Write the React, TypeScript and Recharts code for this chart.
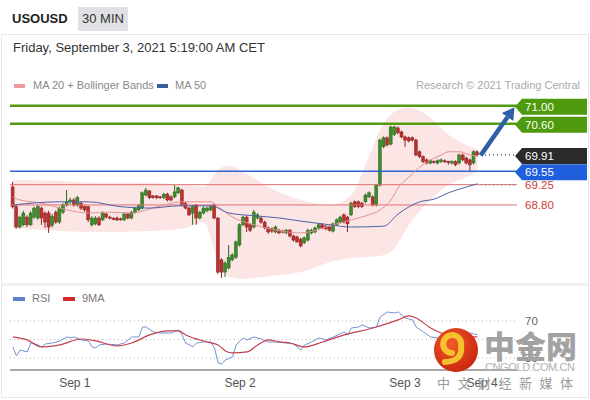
import React from 'react';
import { ComposedChart, Bar, Line, Area, XAxis, YAxis, ReferenceLine } from 'recharts';

const FONT = '"Liberation Sans", Arial, sans-serif';

// OHLC candles [open, close, high, low], 30-min bars
const candles: number[][] = [
  [69.20, 68.76, 69.31, 68.72], [68.76, 68.31, 68.80, 68.27], [68.31, 68.53, 68.56, 68.28], [68.36, 68.62, 68.67, 68.33],
  [68.53, 68.36, 68.57, 68.31], [68.36, 68.62, 68.66, 68.33], [68.53, 68.73, 68.76, 68.49], [68.51, 68.76, 68.80, 68.47],
  [68.73, 68.51, 68.76, 68.36], [68.62, 68.42, 68.66, 68.29], [68.62, 68.31, 68.67, 68.18], [68.35, 68.55, 68.60, 68.30],
  [68.64, 68.42, 68.68, 68.38], [68.42, 68.73, 68.76, 68.38], [68.64, 68.80, 68.84, 68.60], [68.80, 68.87, 69.13, 68.76],
  [68.87, 68.91, 68.96, 68.82], [68.91, 68.80, 68.95, 68.76], [68.80, 68.96, 69.00, 68.76], [68.84, 68.73, 68.88, 68.69],
  [68.76, 68.69, 68.80, 68.65], [68.76, 68.47, 68.78, 68.42], [68.36, 68.51, 68.55, 68.32], [68.38, 68.51, 68.55, 68.35],
  [68.51, 68.36, 68.55, 68.33], [68.47, 68.62, 68.66, 68.44], [68.60, 68.53, 68.63, 68.50], [68.53, 68.51, 68.56, 68.48],
  [68.50, 68.49, 68.53, 68.46], [68.51, 68.47, 68.54, 68.44], [68.49, 68.48, 68.52, 68.45], [68.47, 68.60, 68.63, 68.44],
  [68.60, 68.51, 68.62, 68.48], [68.51, 68.64, 68.67, 68.48], [68.64, 68.73, 68.76, 68.61], [68.69, 68.78, 68.82, 68.66],
  [68.73, 69.07, 69.10, 68.70], [69.02, 69.13, 69.18, 68.99], [69.11, 68.96, 69.13, 68.93], [69.00, 68.96, 69.02, 68.94],
  [69.00, 68.96, 69.02, 68.93], [68.98, 68.96, 69.00, 68.94], [68.96, 69.04, 69.07, 68.93], [69.04, 68.91, 69.07, 68.88],
  [68.98, 68.91, 69.01, 68.88], [68.98, 69.09, 69.24, 68.95], [69.07, 69.18, 69.20, 69.04], [69.13, 68.80, 69.16, 68.77],
  [68.84, 68.73, 68.87, 68.70], [68.73, 68.58, 68.76, 68.55], [68.62, 68.76, 68.79, 68.36], [68.80, 68.51, 68.82, 68.36],
  [68.51, 68.64, 68.67, 68.48], [68.62, 68.73, 68.76, 68.59], [68.67, 68.73, 68.76, 68.64], [68.69, 68.76, 68.79, 68.66],
  [68.80, 68.51, 68.83, 68.48], [68.51, 67.31, 68.53, 67.27], [67.58, 67.31, 67.62, 67.18], [67.31, 67.51, 67.55, 67.20],
  [67.40, 67.64, 67.91, 67.37], [67.58, 67.69, 67.73, 67.55], [67.64, 67.98, 68.01, 67.60], [67.91, 68.36, 68.39, 67.88],
  [68.36, 68.53, 68.56, 68.33], [68.53, 68.31, 68.56, 68.20], [68.36, 68.24, 68.39, 68.20], [68.31, 68.64, 68.69, 68.28],
  [68.51, 68.58, 68.62, 68.48], [68.51, 68.42, 68.54, 68.38], [68.42, 68.29, 68.45, 68.26], [68.29, 68.20, 68.32, 68.16],
  [68.27, 68.22, 68.30, 68.18], [68.20, 68.31, 68.34, 68.17], [68.24, 68.18, 68.27, 68.15], [68.22, 68.20, 68.25, 68.17],
  [68.18, 68.24, 68.27, 68.15], [68.24, 68.11, 68.27, 68.08], [68.11, 68.02, 68.14, 67.99], [68.09, 67.98, 68.12, 67.96],
  [68.04, 67.89, 68.07, 67.86], [67.96, 68.07, 68.10, 67.93], [68.02, 68.24, 68.27, 67.99], [68.18, 68.24, 68.27, 68.15],
  [68.20, 68.29, 68.32, 68.17], [68.29, 68.36, 68.39, 68.26], [68.36, 68.29, 68.39, 68.26], [68.33, 68.27, 68.36, 68.24],
  [68.31, 68.24, 68.34, 68.21], [68.22, 68.38, 68.41, 68.19], [68.36, 68.47, 68.50, 68.33], [68.42, 68.53, 68.56, 68.39],
  [68.58, 68.42, 68.61, 68.39], [68.53, 68.38, 68.56, 68.20], [68.58, 68.84, 68.87, 68.55], [68.87, 68.76, 68.90, 68.73],
  [68.87, 68.76, 68.90, 68.73], [68.84, 68.76, 68.87, 68.73], [68.87, 69.02, 69.05, 68.84], [68.98, 69.07, 69.10, 68.95],
  [68.98, 68.80, 69.01, 68.77], [68.80, 69.24, 69.27, 68.77], [69.24, 70.24, 70.27, 69.21], [70.09, 70.29, 70.32, 70.06],
  [70.29, 70.13, 70.32, 70.10], [70.15, 70.53, 70.56, 70.12], [70.36, 70.53, 70.56, 70.33], [70.51, 70.40, 70.54, 70.37],
  [70.42, 70.31, 70.45, 70.28], [70.31, 70.24, 70.34, 70.09], [70.29, 70.22, 70.32, 70.19], [70.29, 70.24, 70.32, 70.21],
  [70.24, 69.91, 70.27, 69.88], [69.98, 69.87, 70.01, 69.84], [69.87, 69.76, 69.90, 69.73], [69.80, 69.73, 69.83, 69.70],
  [69.73, 69.78, 69.81, 69.70], [69.76, 69.75, 69.79, 69.72], [69.73, 69.78, 69.81, 69.70], [69.76, 69.80, 69.83, 69.73],
  [69.78, 69.76, 69.81, 69.73], [69.76, 69.75, 69.78, 69.69], [69.73, 69.76, 69.79, 69.70], [69.76, 69.69, 69.79, 69.66],
  [69.73, 69.91, 69.94, 69.70], [69.91, 69.80, 69.94, 69.77], [69.84, 69.73, 69.87, 69.70], [69.80, 69.69, 69.83, 69.53],
  [69.73, 69.98, 70.01, 69.70], [69.98, 69.91, 70.01, 69.88],
];

// MA 20 (sampled at candle index)
const ma20Idx = [0, 2, 8, 15, 21, 27, 33, 40, 47, 55, 57, 61, 67, 73, 80, 89, 94, 98, 102, 105, 107, 110, 113, 116, 119, 121, 124, 127, 129];
const ma20Val = [68.98, 68.91, 68.84, 68.69, 68.62, 68.64, 68.62, 68.76, 68.87, 68.87, 68.76, 68.53, 68.36, 68.24, 68.18, 68.36, 68.47, 68.56, 68.69, 68.91, 69.18, 69.42, 69.64, 69.80, 69.91, 69.98, 69.98, 69.91, 69.87];

// MA 50
const ma50Idx = [0, 13, 21, 30, 38, 46, 55, 60, 67, 74, 80, 88, 94, 103, 107, 113, 117, 121, 126, 129];
const ma50Val = [68.80, 68.87, 68.87, 68.76, 68.73, 68.78, 68.78, 68.62, 68.56, 68.51, 68.44, 68.36, 68.31, 68.33, 68.60, 68.87, 68.93, 69.07, 69.20, 69.27];

// Bollinger bands
const bandIdx = [0, 13, 24, 38, 48, 53, 57, 60, 64, 71, 80, 88, 94, 98, 102, 106, 110, 116, 121, 126, 129];
const bandUpper = [69.36, 69.33, 69.29, 69.29, 69.24, 69.20, 69.58, 69.67, 69.53, 69.20, 68.91, 68.80, 69.02, 69.69, 70.47, 70.87, 70.96, 70.73, 70.36, 70.13, 70.02];
const bandLower = [68.29, 68.22, 68.20, 68.22, 68.29, 68.42, 67.53, 67.20, 67.16, 67.22, 67.31, 67.53, 67.62, 67.64, 67.67, 67.84, 68.36, 68.91, 69.24, 69.42, 69.53];

// RSI and its 9MA
const rsiIdx = [0, 1, 2, 4, 5, 7, 8, 9, 11, 13, 15, 16, 17, 19, 21, 22, 23, 24, 26, 29, 31, 32, 33, 35, 36, 37, 39, 41, 44, 46, 47, 48, 50, 51, 53, 55, 56, 57, 58, 59, 61, 62, 64, 65, 67, 69, 71, 73, 76, 78, 80, 81, 83, 85, 87, 89, 92, 93, 94, 96, 97, 99, 101, 102, 104, 106, 107, 109, 111, 112, 114, 116, 118, 120, 123, 126, 127, 129];
const rsiVal = [41.9, 32.2, 38.6, 36.5, 46.2, 44.1, 41.9, 45.1, 46.2, 48.4, 52.7, 51.6, 52.7, 49.5, 48.4, 41.9, 40.8, 44.1, 45.1, 44.1, 46.2, 49.5, 52.7, 52.7, 63.5, 63.5, 58.1, 57.0, 57.0, 60.3, 54.9, 46.2, 41.9, 46.2, 47.3, 47.3, 40.8, 24.6, 23.5, 27.8, 31.1, 44.1, 51.6, 49.5, 52.7, 50.5, 47.3, 47.3, 46.2, 45.1, 38.6, 44.1, 47.3, 51.6, 49.5, 52.7, 58.1, 54.9, 62.4, 63.5, 65.7, 62.4, 63.5, 74.3, 79.7, 78.6, 79.7, 73.2, 71.1, 63.5, 58.1, 52.7, 51.6, 50.5, 51.6, 55.9, 57.0, 54.9];
const ma9Idx = [0, 4, 8, 13, 19, 23, 29, 33, 38, 43, 46, 48, 54, 57, 59, 61, 65, 68, 71, 74, 77, 81, 86, 92, 100, 107, 110, 112, 116, 119, 123, 126, 129];
const ma9Val = [52.7, 49.5, 41.9, 44.1, 50.5, 48.4, 43.0, 46.2, 54.9, 59.2, 59.2, 54.9, 47.3, 44.1, 37.6, 35.4, 36.5, 44.1, 49.5, 47.3, 46.2, 41.9, 47.3, 54.9, 62.4, 71.1, 75.4, 73.2, 62.4, 57.0, 53.8, 52.7, 52.7];

// Price levels
const levels = [71.0, 70.6, 69.91, 69.55, 69.25, 68.8];
const rsiLevels = [70, 50, 30];
const rsiLabels = [70, 30];

// X axis ticks
const dayTickIdx = [17.2, 63.1, 108.9, 130.3];
const dayTickLabels = ['Sep 1', 'Sep 2', 'Sep 3', 'Sep 4'];

const lastIdx = candles.length - 1;
const lastClose = candles[lastIdx][1];

const mainRows: any[] = candles.map(([o, c, h, l], i) => ({ i, o, c, h, l, range: [l, h] }));
ma20Idx.forEach((k, j) => { mainRows[k].ma20 = ma20Val[j]; });
ma50Idx.forEach((k, j) => { mainRows[k].ma50 = ma50Val[j]; });
bandIdx.forEach((k, j) => { mainRows[k].band = [bandLower[j], bandUpper[j]]; });

const rsiRows: any[] = candles.map((_, i) => ({ i }));
rsiIdx.forEach((k, j) => { rsiRows[k].rsi = rsiVal[j]; });
ma9Idx.forEach((k, j) => { rsiRows[k].ma9 = ma9Val[j]; });

const Candle = (props: any) => {
  const { x, width, payload } = props;
  let { y, height } = props;
  if (height < 0) { y = y + height; height = -height; }
  const { o, c, h, l } = payload;
  const k = h - l > 0 ? height / (h - l) : 0;
  const py = (v: number) => y + (h - v) * k;
  const up = c >= o;
  const fill = up ? '#3f8a2c' : '#b93232';
  const edge = up ? '#2b6a1c' : '#8e2222';
  const cx = x + width / 2;
  const top = py(Math.max(o, c));
  const bot = py(Math.min(o, c));
  return (
    <g>
      <line x1={cx} x2={cx} y1={y} y2={y + height} stroke={edge} strokeWidth={1} />
      <rect x={x} y={top} width={width} height={Math.max(1, bot - top)} fill={fill} stroke={edge} strokeWidth={0.5} />
    </g>
  );
};

const tag = (text: string, bg: string) => (p: any) => {
  const vb = p.viewBox || {};
  const x0 = vb.x + vb.width - 2;
  const y = vb.y + 1;
  return (
    <g>
      <path d={`M${x0},${y} L${x0 + 7},${y - 8} L587,${y - 8} L587,${y + 8} L${x0 + 7},${y + 8} Z`} fill={bg} />
      <text x={x0 + 10} y={y + 4} fill="#fff" fontSize={11.5} fontFamily={FONT}>{text}</text>
    </g>
  );
};

const plainTag = (text: string, color: string) => (p: any) => {
  const vb = p.viewBox || {};
  const x0 = vb.x + vb.width - 2;
  return (
    <text x={x0 + 10} y={vb.y + 4} fill={color} fontSize={11.5} fontFamily={FONT}>{text}</text>
  );
};

const rsiTag = (text: string) => (p: any) => {
  const vb = p.viewBox || {};
  const x0 = vb.x + vb.width;
  return (
    <text x={x0 + 8} y={vb.y + 4} fill="#666" fontSize={11.5} fontFamily={FONT}>{text}</text>
  );
};

const ArrowShape = (p: any) => {
  const { x1, y1, x2, y2 } = p;
  const dx = x2 - x1, dy = y2 - y1;
  const len = Math.sqrt(dx * dx + dy * dy) || 1;
  const ux = dx / len, uy = dy / len;
  const nx = -uy, ny = ux;
  const hl = 12, hw = 7;
  const bx = x2 - ux * hl, by = y2 - uy * hl;
  return (
    <g>
      <line x1={x1} y1={y1} x2={bx} y2={by} stroke="#2f5fa6" strokeWidth={4.5} />
      <polygon points={`${x2},${y2} ${bx + nx * hw},${by + ny * hw} ${bx - nx * hw},${by - ny * hw}`} fill="#2f5fa6" />
    </g>
  );
};

const levelStyle = [
  { stroke: '#529b12', w: 2.5, box: '#4f9a0c', plain: false },
  { stroke: '#529b12', w: 2.5, box: '#4f9a0c', plain: false },
  { stroke: 'none', w: 0, box: '#2a2a2a', plain: false },
  { stroke: '#2d66d2', w: 1.5, box: '#1f5fdc', plain: false },
  { stroke: '#e07070', w: 1, box: '#cc3b3b', plain: true },
  { stroke: '#e07070', w: 1, box: '#cc3b3b', plain: true },
];

export default function App() {
  const abs = (l: number, t: number, extra: any = {}) => ({ position: 'absolute' as const, left: l, top: t, ...extra });
  return (
    <div style={{ position: 'absolute', left: 0, top: 0, width: 590, height: 400, overflow: 'hidden', background: '#fff', fontFamily: FONT }}>
      {/* frame */}
      <div style={abs(1, 34, { width: 586, height: 362, border: '1px solid #e8e8e8' })} />
      <div style={abs(2, 283, { width: 586, height: 3, background: '#f2f2f2' })} />
      {/* header */}
      <div style={abs(12, 11, { fontSize: 13, fontWeight: 'bold', color: '#222' })}>USOUSD</div>
      <div style={abs(78, 7, { width: 50, height: 24, background: '#dfe1e4', fontSize: 13, color: '#333', lineHeight: '24px', textAlign: 'center' })}>30 MIN</div>
      <div style={abs(13, 40, { fontSize: 13, color: '#333', whiteSpace: 'nowrap' })}>Friday, September 3, 2021 5:19:00 AM CET</div>
      {/* legend */}
      <div style={abs(14, 84, { width: 11, height: 4, background: '#ee9a9a' })} />
      <div style={abs(33, 79, { fontSize: 11, color: '#888', whiteSpace: 'nowrap' })}>MA 20 + Bollinger Bands</div>
      <div style={abs(157, 84, { width: 11, height: 4, background: '#3a5f9f' })} />
      <div style={abs(175, 79, { fontSize: 11, color: '#888' })}>MA 50</div>
      <div style={abs(380, 79, { width: 200, textAlign: 'right', fontSize: 11, color: '#aaa', whiteSpace: 'nowrap' })}>Research © 2021 Trading Central</div>

      {/* main price chart */}
      <div style={abs(0, 95)}>
        <ComposedChart width={590} height={187} data={mainRows} margin={{ top: 0, right: 73, left: 10, bottom: 0 }}>
          <XAxis type="number" dataKey="i" domain={[-0.8, 140]} hide allowDataOverflow />
          <YAxis type="number" domain={[67.09, 71.24]} hide allowDataOverflow />
          <Area type="monotone" dataKey="band" stroke="none" fill="#f7cfcf" fillOpacity={0.55} connectNulls isAnimationActive={false} />
          {levels.map((v, k) => {
            const s = levelStyle[k];
            const txt = v.toFixed(2);
            return (
              <ReferenceLine key={k} y={v} stroke={s.stroke} strokeWidth={s.w}
                label={s.plain ? plainTag(txt, s.box) : tag(txt, s.box)} />
            );
          })}
          <ReferenceLine segment={[{ x: lastIdx + 1, y: lastClose }, { x: 139.3, y: lastClose }]} stroke="#333" strokeDasharray="1 3" strokeWidth={1.2} />
          <ReferenceLine segment={[{ x: lastIdx + 1, y: ma50Val[ma50Val.length - 1] - 0.02 }, { x: 139.3, y: ma50Val[ma50Val.length - 1] - 0.02 }]} stroke="#777" strokeDasharray="1 3" strokeWidth={1.2} />
          <Line type="monotone" dataKey="ma20" stroke="#e39292" strokeWidth={1} dot={false} connectNulls isAnimationActive={false} />
          <Line type="monotone" dataKey="ma50" stroke="#4f62a6" strokeWidth={1} dot={false} connectNulls isAnimationActive={false} />
          <Bar dataKey="range" barSize={3} shape={Candle} isAnimationActive={false} />
          <ReferenceLine segment={[{ x: 129.9, y: 69.9 }, { x: 139.3, y: 70.97 }]} shape={ArrowShape} />
        </ComposedChart>
      </div>

      {/* RSI legend */}
      <div style={abs(13, 297, { width: 12, height: 4, background: '#5b80cc' })} />
      <div style={abs(32, 292, { fontSize: 11, color: '#777' })}>RSI</div>
      <div style={abs(63, 297, { width: 12, height: 4, background: '#d42a2a' })} />
      <div style={abs(82, 292, { fontSize: 11, color: '#777' })}>9MA</div>

      {/* RSI chart */}
      <div style={abs(0, 308)}>
        <ComposedChart width={590} height={92} data={rsiRows} margin={{ top: 0, right: 73, left: 10, bottom: 0 }}>
          <XAxis type="number" dataKey="i" domain={[-0.8, 140]} allowDataOverflow height={30}
            ticks={dayTickIdx} tickFormatter={(v: number) => dayTickLabels[dayTickIdx.indexOf(v)] || ''}
            axisLine={{ stroke: '#aaa', strokeWidth: 2 }} tickLine={false}
            tick={{ fill: '#555', fontSize: 12, fontFamily: FONT }} />
          <YAxis type="number" domain={[17, 84]} hide allowDataOverflow />
          {rsiLevels.map((v) => (
            <ReferenceLine key={v} y={v} stroke="#b5b5b5" strokeDasharray="1 3"
              label={rsiLabels.indexOf(v) >= 0 ? rsiTag(String(v)) : undefined} />
          ))}
          <Line type="linear" dataKey="rsi" stroke="#7292d4" strokeWidth={1} dot={false} connectNulls isAnimationActive={false} />
          <Line type="monotone" dataKey="ma9" stroke="#c4404e" strokeWidth={1.2} dot={false} connectNulls isAnimationActive={false} />
        </ComposedChart>
      </div>

      {/* watermark */}
      <svg width={590} height={400} style={abs(0, 0, { pointerEvents: 'none' })}>
        <defs>
          <radialGradient id="wmg" cx="40%" cy="35%" r="70%">
            <stop offset="0" stopColor="#f25a26" />
            <stop offset="1" stopColor="#c8230f" />
          </radialGradient>
        </defs>
        <circle cx={456} cy={350} r={22} fill="url(#wmg)" />
        <path d="M445,362 Q463,361 461,346 A9,9 0 1 0 452,353" stroke="#f6c12e" strokeWidth={6} fill="none" strokeLinecap="round" />
        <text x={484} y={358} fontSize={31} fontWeight={900} fill="#a2a2a2" fontFamily='"Noto Sans CJK SC", sans-serif'>中金网</text>
        <text x={485} y={371} fontSize={11} fill="#b0b0b0" fontFamily={FONT} textLength={90}>CNGOLD.COM.CN</text>
        <text x={437} y={388} fontSize={13} fill="#9a9a9a" fontFamily='"Noto Sans CJK SC", sans-serif' textLength={136}>中 文 财 经 新 媒 体</text>
      </svg>
    </div>
  );
}
